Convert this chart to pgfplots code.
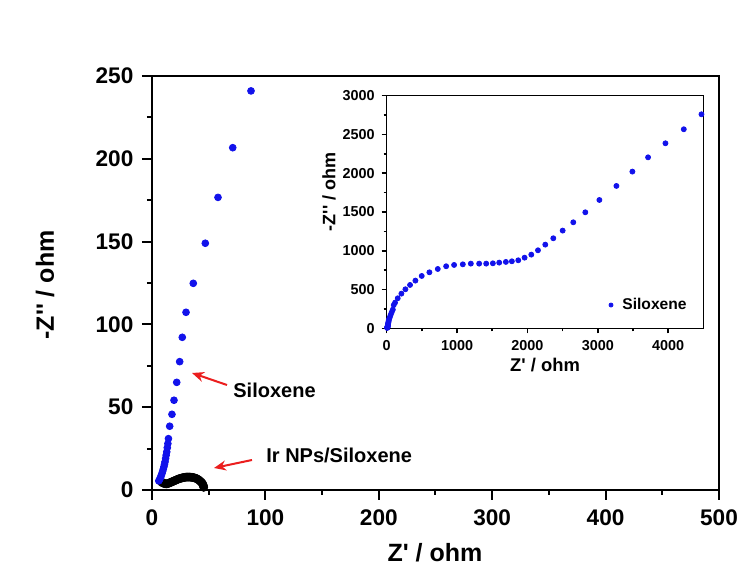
\documentclass[border=0pt]{standalone}
\usepackage{pgfplots}
\pgfplotsset{compat=1.18}
\usepackage{fontspec}
\setmainfont{Liberation Sans}
\usetikzlibrary{arrows.meta}
\definecolor{sblue}{RGB}{18,18,235}
\definecolor{ared}{RGB}{235,30,30}
\pgfplotsset{dotlegend/.style={legend image code/.code={\path[draw=none] (-0.05cm,0) -- (0.2cm,0); \draw[##1, only marks, mark size=1pt] plot coordinates {(0.07cm,0cm)};}}}
\begin{document}
\begin{tikzpicture}
\useasboundingbox (-76pt,-40.5pt) rectangle (293.5pt,245pt);
\begin{axis}[
  at={(0pt,0pt)}, anchor=south west,
  scale only axis, width=283.5pt, height=207pt,
  xmin=0, xmax=500, ymin=0, ymax=250,
  axis line style={line width=1pt},
  xtick={0,100,...,500}, minor xtick={50,150,...,450},
  ytick={0,50,...,250}, minor ytick={25,75,...,225},
  xtick pos=bottom, ytick pos=left,
  tick align=outside,
  major tick length=5pt, minor tick length=2.5pt,
  every tick/.style={line width=1pt, black},
  tick label style={font=\bfseries\fontsize{11.3}{13}\selectfont},
  xticklabel style={yshift=-1.2pt},
  yticklabel style={xshift=-0.8pt},
  /pgf/number format/assume math mode=true,
  clip=false,
]
\addplot[only marks, mark=*, mark size=2pt, black] coordinates {
(7.5,5.5)(8.5,4.8)(9.5,4.3)(10.5,4.0)(11.5,3.8)(12.5,3.7)(13.5,3.8)(14.5,4.0)(15.5,4.3)(16.5,4.6)(17.5,4.9)
(18.5,5.2)(19.5,5.5)(20.5,5.8)(21.5,6.1)(22.5,6.4)(23.5,6.7)(24.5,6.9)(25.5,7.1)(26.5,7.3)
(27.5,7.5)(28.5,7.6)(29.5,7.7)(30.5,7.8)(31.5,7.8)(32.5,7.8)(33.5,7.8)(34.5,7.7)(35.5,7.6)(36.5,7.5)
(37.5,7.3)(38.5,7.1)(39.5,6.8)(40.5,6.4)(41.5,5.9)(42.5,5.3)(43.5,4.7)(44.3,4.0)(45,3.2)(45.4,2.4)(45.6,1.6)
};
\addplot[only marks, mark=*, mark size=1.7pt, sblue] coordinates {
(6,5.5)(6.8,6.5)(7.5,7.6)(8.2,8.8)(8.8,10)(9.4,11.3)(10,12.7)(10.5,14)(11,15.5)(11.5,17)
(12,19)(12.5,21)(13,23)(13.5,25.5)(14,28)(14.5,31)(15.6,38.5)(17.6,45.7)(19.4,54.2)
(21.8,65)(24.4,77.5)(26.7,92.2)(30,107.3)(36.4,124.8)(47,149)(58.2,176.7)(71.2,206.7)(87.3,241)
};
\end{axis}
\begin{axis}[
  at={(117.35pt,80.85pt)}, anchor=south west,
  scale only axis, width=158.3pt, height=116.3pt,
  xmin=0, xmax=4500, ymin=0, ymax=3000,
  axis line style={line width=0.75pt},
  xtick={0,1000,...,4000}, minor xtick={500,1500,...,3500},
  ytick={0,500,...,3000}, minor ytick={250,750,...,2750},
  xtick pos=bottom, ytick pos=left,
  tick align=outside,
  major tick length=2.5pt, minor tick length=1.5pt,
  every tick/.style={line width=0.75pt, black},
  tick label style={font=\bfseries\fontsize{7.2}{8.5}\selectfont},
  /pgf/number format/assume math mode=true,
  /pgf/number format/1000 sep={}, scaled ticks=false,
  legend style={at={(0.98,0.10)}, anchor=east, draw=none, fill=none,
    font=\bfseries\fontsize{7.8}{9}\selectfont},
  clip=false,
]
\addplot[only marks, mark=*, mark size=1.25pt, sblue, dotlegend] coordinates {
(6,5.5)(7.5,7.6)(8.8,10)(10,12.7)(11,15.5)(12,19)(13,23)(14,28)(15.6,38.5)(17.6,45.7)(19.4,54.2)
(21.8,65)(24.4,77.5)(26.7,92.2)(30,107.3)(36.4,124.8)(47,149)(58.2,176.7)(71.2,206.7)(87.3,241)
(100,300)(119,331)(157,387)(209,447)(266,503)(332,559)(408,615)(498,675)(607,722)(726,765)
(845,800)(958,817)(1082,825)(1196,834)(1314,834)(1414,834)(1509,838)(1599,847)(1694,856)
(1779,864)(1870,877)(1960,911)(2055,950)(2150,1006)(2254,1079)(2368,1161)(2501,1260)
(2652,1367)(2823,1496)(3023,1655)(3265,1836)(3492,2021)(3715,2205)(3962,2386)(4223,2567)(4474,2760)
};
\addlegendentry{Siloxene}
\end{axis}
% axis labels
\node[rotate=90, font=\bfseries\fontsize{12.5}{14}\selectfont] at (-53.5pt,102.5pt) {-Z\textquotesingle\textquotesingle{} / ohm};
\node[font=\bfseries\fontsize{12.5}{14}\selectfont] at (141.5pt,-31.5pt) {Z\textquotesingle{} / ohm};
\node[rotate=90, font=\bfseries\fontsize{9}{11}\selectfont] at (88.5pt,149pt) {-Z\textquotesingle\textquotesingle{} / ohm};
\node[font=\bfseries\fontsize{9.2}{11}\selectfont] at (196.5pt,62.5pt) {Z\textquotesingle{} / ohm};
% annotations
\draw[ared, line width=1pt, -{Stealth[length=6pt,width=5pt]}] (37.5pt,52.5pt) -- (20pt,58.5pt);
\node[anchor=west, font=\bfseries\fontsize{10}{12}\selectfont, inner sep=0pt] at (40.5pt,50pt) {Siloxene};
\draw[ared, line width=1pt, -{Stealth[length=6pt,width=5pt]}] (50pt,15pt) -- (31pt,11pt);
\node[anchor=west, font=\bfseries\fontsize{10}{12}\selectfont, inner sep=0pt] at (57pt,17.5pt) {Ir NPs/Siloxene};
\end{tikzpicture}
\end{document}
